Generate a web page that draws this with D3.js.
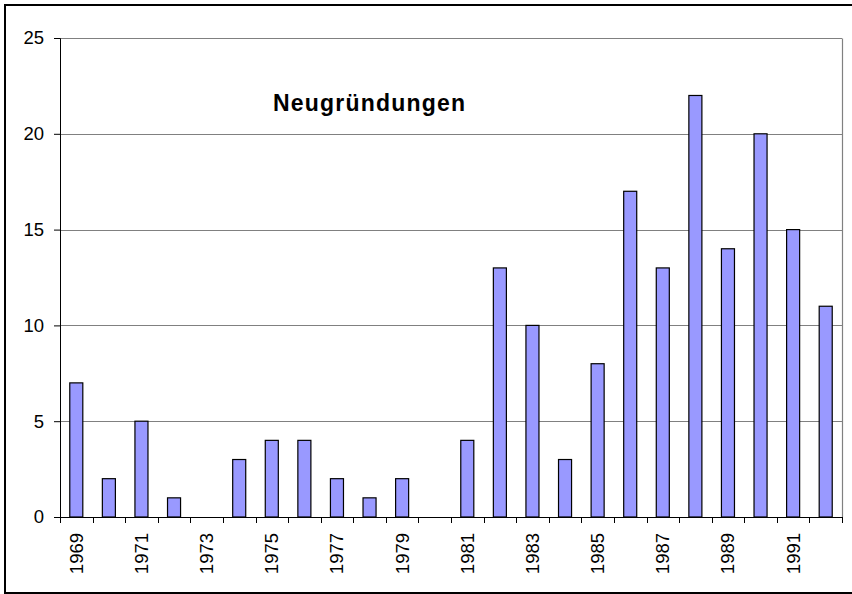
<!DOCTYPE html>
<html>
<head>
<meta charset="utf-8">
<script src="https://cdn.jsdelivr.net/npm/d3@7"></script>
<style>
  body { margin: 0; background: #fff; }
  svg { display: block; font-family: Arial, "Liberation Sans", sans-serif; }
</style>
</head>
<body>
<div id="chart"></div>
<script>
// data
const years = ["1969", "1970", "1971", "1972", "1973", "1974", "1975", "1976",
  "1977", "1978", "1979", "1980", "1981", "1982", "1983", "1984",
  "1985", "1986", "1987", "1988", "1989", "1990", "1991", "1992"];
const counts = [7, 2, 5, 1, 0, 3, 4, 4, 2, 1, 2, 0, 4, 13, 10, 3, 8, 17, 13, 22, 14, 20, 15, 11];
const yTicks = [0, 5, 10, 15, 20, 25];
const title = "Neugründungen";

const width = 852;
const height = 594;
const margin = { top: 38, right: 10, bottom: 77, left: 60 };
const plotW = 842 - margin.left;
const plotH = height - margin.top - margin.bottom;

const svg = d3.select("#chart")
  .append("svg")
  .attr("width", width)
  .attr("height", height);

// outer frame (runs off the right edge like the source)
svg.append("rect")
  .attr("x", 5)
  .attr("y", 5)
  .attr("width", width + 20)
  .attr("height", 588)
  .attr("fill", "none")
  .attr("stroke", "#000")
  .attr("stroke-width", 2);

const g = svg.append("g")
  .attr("transform", `translate(${margin.left},${margin.top})`);

const x = d3.scaleBand()
  .domain(years)
  .range([0, plotW])
  .paddingInner(0.6)
  .paddingOuter(0.3);

const y = d3.scaleLinear()
  .domain([0, 25])
  .range([plotH, 0]);

// gridlines
g.selectAll(".grid")
  .data(yTicks.filter(d => d > 0))
  .enter()
  .append("line")
  .attr("class", "grid")
  .attr("x1", 0)
  .attr("x2", plotW)
  .attr("y1", d => Math.round(y(d)) + 0.5)
  .attr("y2", d => Math.round(y(d)) + 0.5)
  .attr("stroke", "#808080")
  .attr("stroke-width", 1.2);

// right border of plot area
g.append("line")
  .attr("x1", plotW + 0.5)
  .attr("x2", plotW + 0.5)
  .attr("y1", Math.round(y(25)) + 0.5)
  .attr("y2", plotH)
  .attr("stroke", "#808080")
  .attr("stroke-width", 1.2);

// bars
g.selectAll(".bar")
  .data(counts)
  .enter()
  .append("rect")
  .attr("class", "bar")
  .attr("x", (d, i) => x(years[i]))
  .attr("y", d => y(d))
  .attr("width", x.bandwidth())
  .attr("height", d => plotH - y(d))
  .attr("fill", "#9999ff")
  .attr("stroke", "#000")
  .attr("stroke-width", 1.2);

// y axis
const yAxis = d3.axisLeft(y)
  .tickValues(yTicks)
  .tickSize(6)
  .tickPadding(10);

g.append("g")
  .attr("class", "axis y-axis")
  .call(yAxis)
  .call(a => a.selectAll("text").attr("font-size", 18.5).attr("fill", "#000"))
  .call(a => a.selectAll("line, path").attr("stroke", "#000"));

// x axis: ticks sit between the categories
const step = x.step();
const tickPos = d3.range(years.length + 1).map(i => i * step);

const xg = g.append("g")
  .attr("class", "axis x-axis")
  .attr("transform", `translate(0,${plotH})`);

xg.append("line")
  .attr("x1", 0)
  .attr("x2", plotW)
  .attr("y1", 0.5)
  .attr("y2", 0.5)
  .attr("stroke", "#000");

xg.selectAll(".tick")
  .data(tickPos)
  .enter()
  .append("line")
  .attr("x1", d => Math.round(d) + 0.5)
  .attr("x2", d => Math.round(d) + 0.5)
  .attr("y1", 0)
  .attr("y2", 6)
  .attr("stroke", "#000");

xg.selectAll(".label")
  .data(years.filter((d, i) => i % 2 === 0))
  .enter()
  .append("text")
  .attr("class", "label")
  .attr("transform", d => `translate(${x(d) + x.bandwidth() / 2 + 6.5},16) rotate(-90)`)
  .attr("text-anchor", "end")
  .attr("font-size", 18.5)
  .attr("fill", "#000")
  .text(d => d);

// title inside the plot
svg.append("text")
  .attr("x", 273)
  .attr("y", 111)
  .attr("font-size", 23)
  .attr("font-weight", "bold")
  .attr("letter-spacing", 1.2)
  .attr("fill", "#000")
  .text(title);
</script>
</body>
</html>
